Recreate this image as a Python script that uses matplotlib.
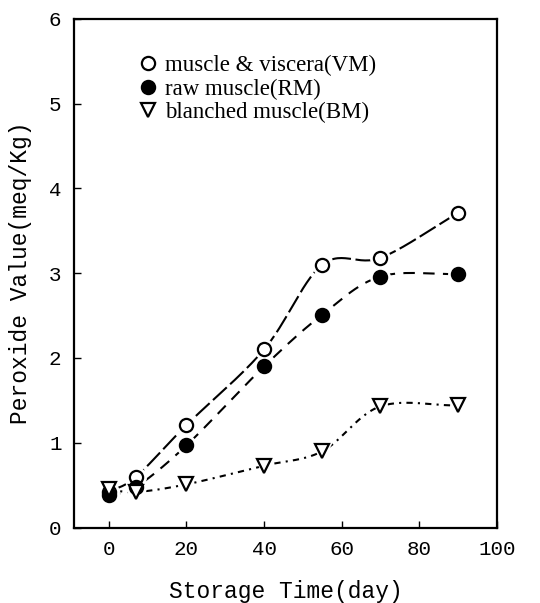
import numpy as np
import matplotlib.pyplot as plt

# data
days = [0, 7, 20, 40, 55, 70, 90]
vm = [0.42, 0.60, 1.21, 2.10, 3.10, 3.18, 3.71]
rm = [0.38, 0.48, 0.97, 1.90, 2.51, 2.96, 2.99]
bm = [0.45, 0.42, 0.51, 0.73, 0.90, 1.43, 1.44]

labels = ['muscle & viscera(VM)', 'raw muscle(RM)', 'blanched muscle(BM)']
markers = ['o', 'o', 'v']
faces = ['white', 'black', 'white']
dashes = [(9, 2.2), (5.5, 4), (3, 2.5, 1, 2.5)]


def smooth(x, y, n=30):
    # Catmull-Rom curve through the points, only used for drawing the line
    x = np.asarray(x, float)
    y = np.asarray(y, float)
    px = np.concatenate([[2 * x[0] - x[1]], x, [2 * x[-1] - x[-2]]])
    py = np.concatenate([[2 * y[0] - y[1]], y, [2 * y[-1] - y[-2]]])
    xs, ys = [], []
    t = np.linspace(0, 1, n)
    for i in range(1, len(px) - 2):
        for p, out in ((px, xs), (py, ys)):
            p0, p1, p2, p3 = p[i - 1], p[i], p[i + 1], p[i + 2]
            out.append(0.5 * (2 * p1 + (-p0 + p2) * t
                              + (2 * p0 - 5 * p1 + 4 * p2 - p3) * t ** 2
                              + (-p0 + 3 * p1 - 3 * p2 + p3) * t ** 3))
    return np.concatenate(xs), np.concatenate(ys)


fig = plt.figure(figsize=(5.4, 6.03), dpi=100)
ax = fig.add_axes([0.137, 0.125, 0.783, 0.844])

for y, mk, fc, ds, lab in zip([vm, rm, bm], markers, faces, dashes, labels):
    sx, sy = smooth(days, y)
    ax.plot(sx, sy, color='black', lw=1.5, dashes=ds, zorder=2)
    # white halo so the line stops short of each marker
    ax.plot(days, y, ls='none', marker=mk, ms=14, mfc='white', mec='white', zorder=3)
    ax.plot(days, y, ls='none', marker=mk, ms=9.5, mfc=fc, mec='black', mew=1.6,
            label=lab, zorder=4)

ax.set_xlim(-9, 100)
ax.set_ylim(0, 6)
ax.set_xticks([0, 20, 40, 60, 80, 100])
ax.set_yticks([0, 1, 2, 3, 4, 5, 6])
ax.tick_params(direction='in', length=5, width=1, labelsize=15, pad=9)
for lbl in ax.get_xticklabels() + ax.get_yticklabels():
    lbl.set_family('Liberation Mono')
for s in ax.spines.values():
    s.set_linewidth(1.6)

ax.set_xlabel('Storage Time(day)', family='Liberation Mono', fontsize=16.5, labelpad=15)
ax.set_ylabel('Peroxide Value(meq/Kg)', family='Liberation Mono', fontsize=16.5, labelpad=12)

ax.legend(loc='upper left', bbox_to_anchor=(0.11, 0.96), frameon=False,
          prop={'family': 'Liberation Serif', 'size': 16.5}, handletextpad=0.25,
          labelspacing=0.1, handlelength=1.0, borderpad=0.2)

fig.savefig('out.png', dpi=100)
